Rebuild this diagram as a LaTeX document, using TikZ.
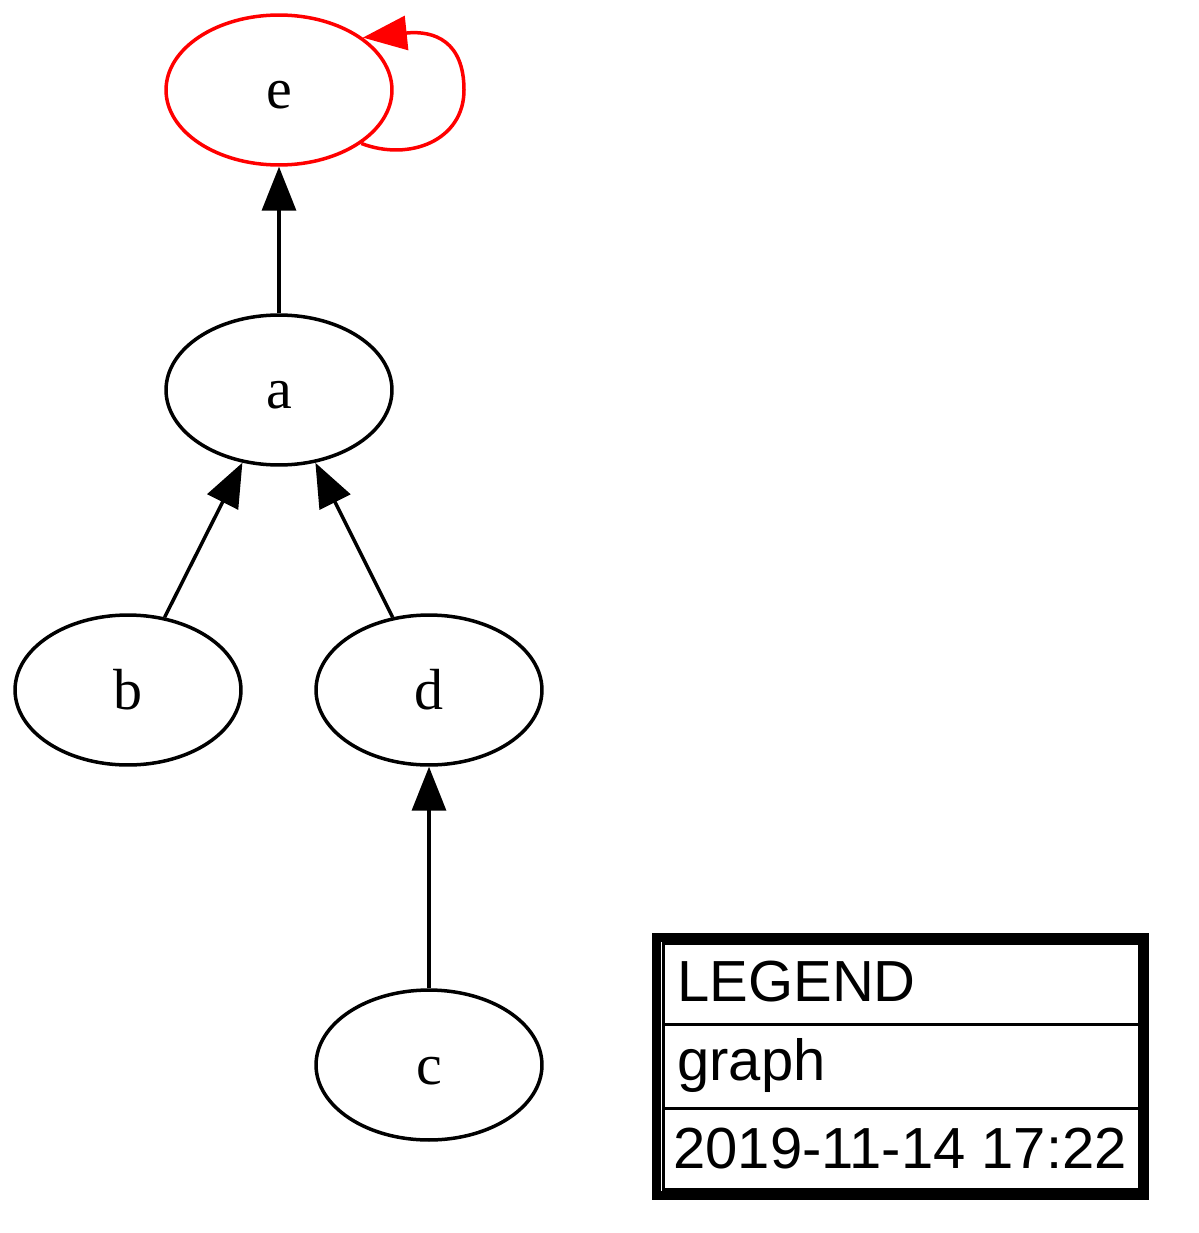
\documentclass[tikz,border=0pt]{standalone}
\usepackage{fontspec}
\setmainfont{Liberation Serif}
\newfontfamily\legendfont{Liberation Sans}
\usetikzlibrary{shapes.geometric,arrows.meta}

\begin{document}
\begin{tikzpicture}[x=0.02cm,y=-0.02cm,
  vertex/.style={ellipse,draw,line width=0.07cm,minimum width=4.52cm,minimum height=3cm,
    inner sep=0pt,font=\fontsize{33}{40}\selectfont,text height=0.88cm,text depth=0.12cm},
  edge/.style={line width=0.07cm,-{Triangle[length=0.88cm,width=0.68cm]}},
  legendtext/.style={anchor=base west,inner sep=0pt,font=\legendfont\fontsize{33}{40}\selectfont}]
  \useasboundingbox (0,0) rectangle (1198,1233);

  % graph vertices
  \node[vertex,red,text=black] (e) at (279,90) {e};
  \node[vertex] (a) at (279,390) {a};
  \node[vertex] (b) at (128,690) {b};
  \node[vertex] (d) at (429,690) {d};
  \node[vertex] (c) at (429,1065) {c};

  % edges
  \draw[edge] (a) -- (e);
  \draw[edge] (b) -- (a);
  \draw[edge] (d) -- (a);
  \draw[edge] (c) -- (d);
  \draw[edge,red] (e.-33) .. controls (410,162) and (464,140) .. (464,90)
    .. controls (464,42) and (435,30) .. (e.32);

  % legend table
  \draw[line width=0.18cm] (656.5,937) rectangle (1144,1195);
  \draw[line width=0.06cm] (663.5,943.5) rectangle (1139.5,1189.5);
  \draw[line width=0.06cm] (663.5,1024.5) -- (1139.5,1024.5);
  \draw[line width=0.06cm] (663.5,1108.5) -- (1139.5,1108.5);
  \node[legendtext] (lg1) at (677,1001) {LEGEND};
  \node[legendtext] (lg2) at (677,1080) {graph};
  \node[legendtext] (lg3) at (673,1168) {2019-11-14 17:22};
\end{tikzpicture}
\end{document}
